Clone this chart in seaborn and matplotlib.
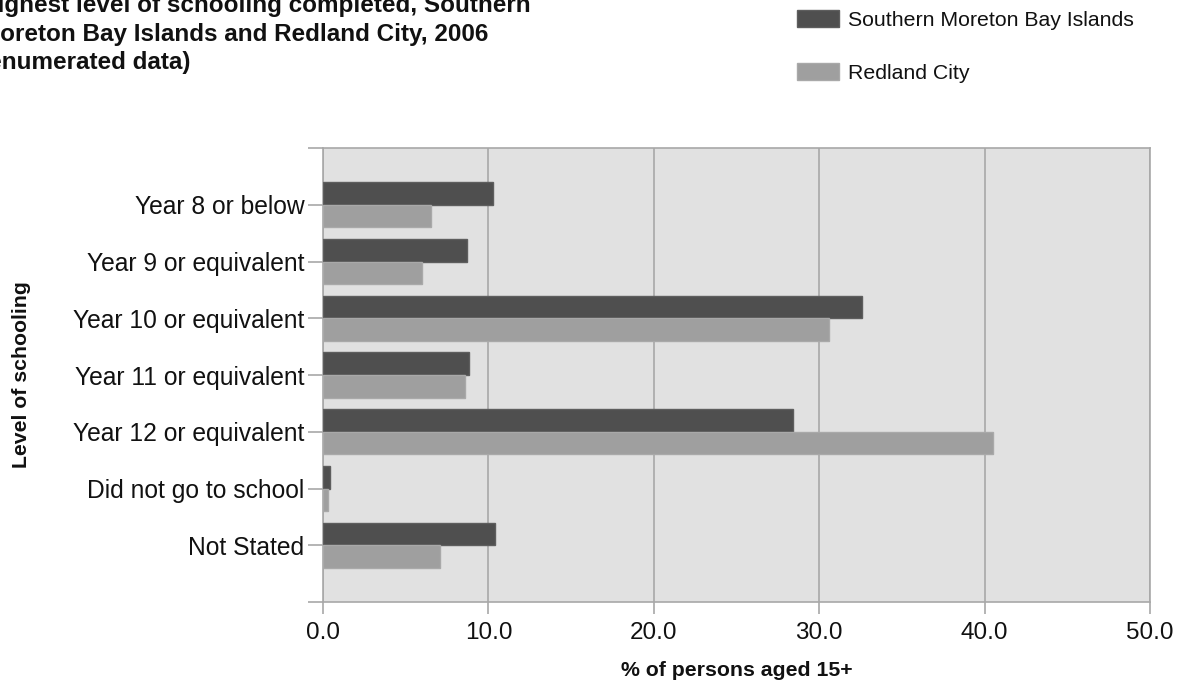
import matplotlib
matplotlib.use("Agg")
import matplotlib.pyplot as plt
import seaborn as sns
import pandas as pd
from matplotlib.patches import Patch

# Highest level of schooling completed, 2006 (% of persons aged 15+)
levels = ["Year 8 or below", "Year 9 or equivalent", "Year 10 or equivalent",
          "Year 11 or equivalent", "Year 12 or equivalent", "Did not go to school",
          "Not Stated"]
smbi = [10.3, 8.7, 32.6, 8.8, 28.4, 0.4, 10.4]
redland = [6.5, 6.0, 30.6, 8.6, 40.5, 0.3, 7.1]
areas = ["Southern Moreton Bay Islands", "Redland City"]
x_ticks = [0, 10, 20, 30, 40, 50]
x_tick_labels = ["0.0", "10.0", "20.0", "30.0", "40.0", "50.0"]
title_lines = ["Highest level of schooling completed, Southern",
               "Moreton Bay Islands and Redland City, 2006",
               "(enumerated data)"]

df = pd.DataFrame({
    "level": levels * 2,
    "pct": smbi + redland,
    "area": [areas[0]] * len(levels) + [areas[1]] * len(levels),
})

plt.rcParams["font.family"] = ["Liberation Sans", "DejaVu Sans"]

dark, light = "#4f4f4f", "#9f9f9f"
dark_edge, light_edge = "#5e5e5e", "#a9a9a9"
line_c = "#a8a8a8"
text_c = "#111111"

W, H = 1184, 686
fig = plt.figure(figsize=(W / 100, H / 100), dpi=100)
fig.patch.set_facecolor("white")
ax = fig.add_axes([323 / W, 1 - 602 / H, (1150 - 323) / W, (602 - 148) / H])
ax.set_facecolor("#e1e1e1")

sns.barplot(data=df, x="pct", y="level", hue="area", order=levels,
            hue_order=areas, palette=[dark, light], orient="h", width=0.8,
            legend=False, ax=ax, linewidth=1, zorder=3)
for cont, ec in zip(ax.containers, [dark_edge, light_edge]):
    for bar in cont:
        bar.set_edgecolor(ec)

ax.set_xlim(0, 50)
ax.set_ylim(len(levels), -1)
ax.set_xticks(x_ticks)
ax.set_xticklabels(x_tick_labels)
ax.set_yticks(range(len(levels)))
ax.set_yticklabels(levels)
ax.set_yticks([-1, len(levels)], minor=True)

ax.set_axisbelow(True)
ax.grid(axis="x", color=line_c, linewidth=1.2)
ax.grid(axis="y", visible=False)
for s in ax.spines.values():
    s.set_visible(True)
    s.set_color(line_c)
    s.set_linewidth(1.2)

ax.tick_params(axis="y", which="both", length=10.8, width=1.2, color=line_c,
               pad=2.5, labelsize=17.7, labelcolor=text_c)
ax.tick_params(axis="x", length=8.6, width=1.2, color=line_c, pad=5.5,
               labelsize=17.5, labelcolor=text_c)

ax.set_xlabel("% of persons aged 15+", fontsize=15.3, fontweight="bold",
              color=text_c)
ax.xaxis.label.set(va="center")
ax.xaxis.set_label_coords(0.5, (602 - 670) / 454)
ax.set_ylabel("Level of schooling", fontsize=15.3, fontweight="bold",
              color=text_c)
ax.yaxis.label.set(va="center", ha="center", rotation_mode="default")
ax.yaxis.set_label_coords((22 - 323) / 827, 0.5)

for line, base in zip(title_lines, [12, 40.5, 69]):
    fig.text(-20 / W, 1 - base / H, line, fontsize=17.5, fontweight="bold",
             color=text_c, ha="left", va="baseline")

handles = [Patch(facecolor=dark, edgecolor=dark_edge, label=areas[0]),
           Patch(facecolor=light, edgecolor=light_edge, label=areas[1])]
fig.legend(handles=handles, loc="upper left",
           bbox_to_anchor=(797 / W, 1 - 10 / H), frameon=False, fontsize=15.3,
           handlelength=1.98, handleheight=0.85, handletextpad=0.43,
           labelspacing=1.55, borderpad=0, borderaxespad=0, labelcolor=text_c)

fig.savefig("out.png", dpi=100)
